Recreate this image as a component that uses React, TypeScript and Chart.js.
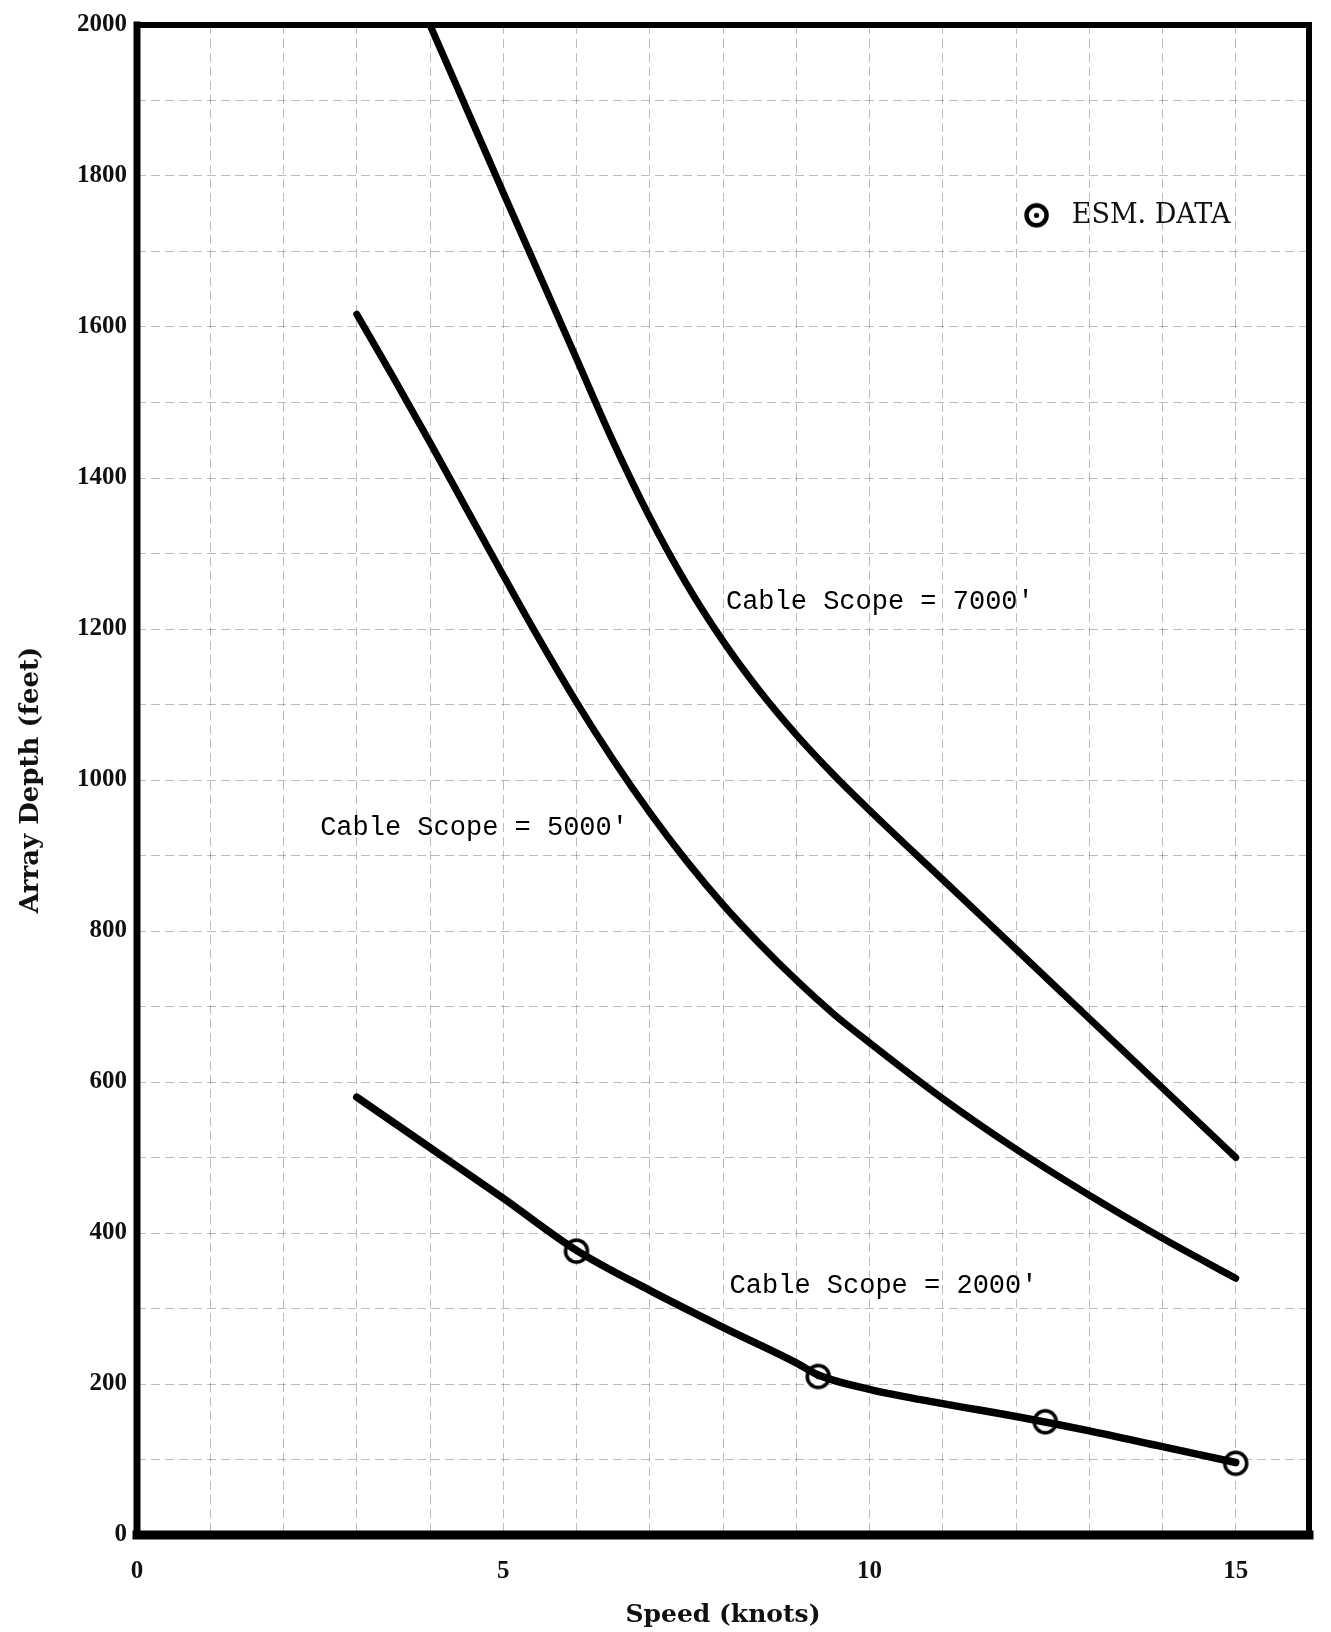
import React, { useEffect, useRef } from "react";
import { Chart, registerables } from "chart.js";

Chart.register(...registerables);

// ---- Axis ranges ----
const X_MIN = 0;
const X_MAX = 16;
const Y_MIN = 0;
const Y_MAX = 2000;
const xLabelledTicks = [0, 5, 10, 15];
const yLabelStep = 200;

// ---- Series: Cable Scope = 7000' ----
const speed7000 = [4, 4.5, 5, 5.5, 6, 6.5, 7, 7.5, 8, 8.5, 9, 9.5, 10, 11, 12, 13, 14, 15];
const depth7000 = [2000, 1889, 1778, 1668, 1558, 1448, 1348, 1260, 1184, 1118, 1060, 1008, 960, 868, 776, 684, 592, 500];

// ---- Series: Cable Scope = 5000' ----
const speed5000 = [3, 3.5, 4, 4.5, 5, 5.5, 6, 6.5, 7, 7.5, 8, 8.5, 9, 9.5, 10, 11, 12, 13, 14, 15];
const depth5000 = [1617, 1533, 1447, 1359, 1271, 1185, 1103, 1027, 957, 893, 835, 783, 735, 691, 652, 578, 511, 450, 393, 340];

// ---- Series: Cable Scope = 2000' ----
const speed2000 = [3, 4, 5, 6, 7, 8, 9, 9.3, 10, 11, 12, 13, 14, 15];
const depth2000 = [580, 513, 446, 377, 324, 275, 228, 212, 193, 174, 157, 138, 117, 96];

// ---- ESM data points ----
const esmSpeed = [6.0, 9.3, 12.4, 15.0];
const esmDepth = [376, 210, 150, 95];

// ---- Text ----
const curveLabels = ["Cable Scope = 7000'", "Cable Scope = 5000'", "Cable Scope = 2000'"];
const legendLabel = "ESM. DATA";
const xTitle = "Speed (knots)";
const yTitle = "Array Depth (feet)";

// ---- Annotation anchors (data coordinates) ----
const labelAnchorX = [8.04, 2.5, 8.09];
const labelAnchorY = [1236, 936, 330];
const legendAnchor = { x: 12.28, y: 1748, textX: 12.76 };

function makeMarker(r: number, lw: number): HTMLCanvasElement {
  const c = document.createElement("canvas");
  const size = Math.ceil(2 * r + lw + 4);
  c.width = size;
  c.height = size;
  const g = c.getContext("2d")!;
  const m = size / 2;
  g.beginPath();
  g.arc(m, m, r, 0, Math.PI * 2);
  g.fillStyle = "#ffffff";
  g.fill();
  g.lineWidth = lw;
  g.strokeStyle = "#000000";
  g.stroke();
  g.beginPath();
  g.arc(m, m, 2.6, 0, Math.PI * 2);
  g.fillStyle = "#000000";
  g.fill();
  return c;
}

const zip = (xs: number[], ys: number[]) => xs.map((x, i) => ({ x, y: ys[i] }));

export default function App() {
  const ref = useRef<HTMLCanvasElement | null>(null);

  useEffect(() => {
    if (!ref.current) return;
    const marker = makeMarker(11, 3.5);
    const legendMarker = makeMarker(10, 4.5);

    const overlay = {
      id: "overlay",
      afterDatasetsDraw(chart: any) {
        const { ctx, chartArea: a, scales } = chart;
        const xs = scales.x;
        const ys = scales.y;
        ctx.save();
        // curve labels
        ctx.font = '27px "Liberation Mono"';
        ctx.fillStyle = "#000";
        ctx.textAlign = "left";
        ctx.textBaseline = "middle";
        curveLabels.forEach((t, i) => {
          ctx.fillText(t, xs.getPixelForValue(labelAnchorX[i]), ys.getPixelForValue(labelAnchorY[i]));
        });
        // legend
        const lx = xs.getPixelForValue(legendAnchor.x);
        const ly = ys.getPixelForValue(legendAnchor.y);
        ctx.drawImage(legendMarker, lx - legendMarker.width / 2, ly - legendMarker.height / 2);
        ctx.font = '27px "DejaVu Serif"';
        ctx.fillStyle = "#111";
        ctx.fillText(legendLabel, xs.getPixelForValue(legendAnchor.textX), ly + 1);
        // heavy frame
        ctx.strokeStyle = "#000";
        ctx.lineCap = "square";
        const seg = (w: number, x1: number, y1: number, x2: number, y2: number) => {
          ctx.lineWidth = w;
          ctx.beginPath();
          ctx.moveTo(x1, y1);
          ctx.lineTo(x2, y2);
          ctx.stroke();
        };
        seg(6, a.left, a.top, a.right, a.top);
        seg(6, a.right, a.top, a.right, a.bottom);
        seg(9, a.left, a.bottom, a.right, a.bottom);
        seg(7, a.left, a.top, a.left, a.bottom);
        ctx.restore();
      },
    };

    const lineDs = (label: string, xs: number[], ys: number[], w: number) =>
      ({
        label,
        data: zip(xs, ys),
        showLine: true,
        borderColor: "#000",
        borderWidth: w,
        pointRadius: 0,
        cubicInterpolationMode: "monotone",
        borderCapStyle: "round",
        borderJoinStyle: "round",
      } as any);

    const chart = new Chart(ref.current, {
      type: "scatter",
      data: {
        datasets: [
          lineDs(curveLabels[0], speed7000, depth7000, 7),
          lineDs(curveLabels[1], speed5000, depth5000, 7),
          lineDs(curveLabels[2], speed2000, depth2000, 7.5),
          {
            label: legendLabel,
            data: zip(esmSpeed, esmDepth),
            showLine: false,
            pointStyle: marker,
            pointRadius: 11,
          } as any,
        ],
      },
      options: {
        responsive: false,
        animation: false,
        devicePixelRatio: 1,
        layout: { padding: { top: 9, right: 17, left: 0, bottom: 0 } },
        plugins: {
          legend: { display: false },
          tooltip: { enabled: false },
        },
        scales: {
          x: {
            type: "linear",
            min: X_MIN,
            max: X_MAX,
            afterFit: (s: any) => {
              s.height = 97;
            },
            ticks: {
              stepSize: 1,
              autoSkip: false,
              maxRotation: 0,
              padding: 22,
              color: "#111",
              font: { family: "Liberation Serif", size: 25, weight: "bold" },
              callback: (v: any) => (xLabelledTicks.includes(Number(v)) ? String(v) : ""),
            },
            grid: {
              color: "rgba(70,70,70,0.36)",
              lineWidth: 1,
              drawTicks: false,
            },
            border: { display: false, dash: [9, 5] },
            title: {
              display: true,
              text: xTitle,
              color: "#111",
              font: { family: "DejaVu Serif", size: 25, weight: "bold" },
              padding: { top: 0, bottom: 2 },
            },
          },
          y: {
            type: "linear",
            min: Y_MIN,
            max: Y_MAX,
            afterFit: (s: any) => {
              s.width = 137;
            },
            ticks: {
              stepSize: 100,
              autoSkip: false,
              padding: 10,
              color: "#111",
              font: { family: "Liberation Serif", size: 25, weight: "bold" },
              callback: (v: any) => (Number(v) % yLabelStep === 0 ? String(v) : ""),
            },
            grid: {
              color: "rgba(70,70,70,0.36)",
              lineWidth: 1,
              drawTicks: false,
            },
            border: { display: false, dash: [9, 5] },
            title: {
              display: true,
              text: yTitle,
              color: "#111",
              font: { family: "DejaVu Serif", size: 26, weight: "bold" },
              padding: { top: 16, bottom: 0 },
            },
          },
        },
      },
      plugins: [overlay],
    } as any);

    return () => chart.destroy();
  }, []);

  return (
    <div style={{ position: "absolute", left: 0, top: 0, width: 1331, height: 1632, background: "#fff" }}>
      <canvas ref={ref} width={1331} height={1632} style={{ display: "block", width: 1331, height: 1632 }} />
    </div>
  );
}
